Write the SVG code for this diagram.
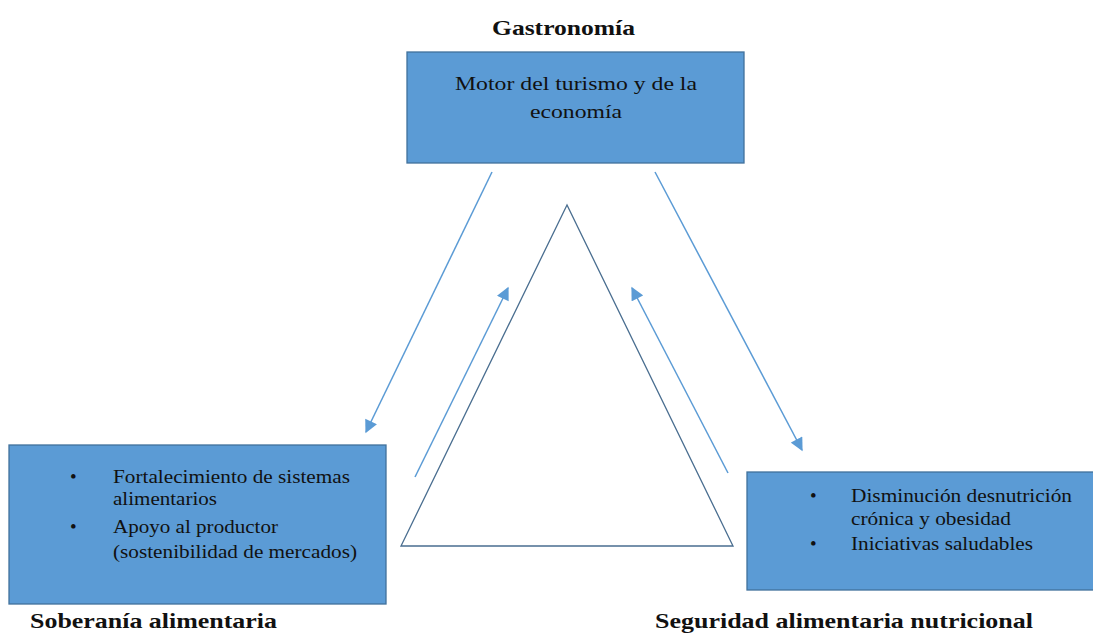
<svg xmlns="http://www.w3.org/2000/svg" width="1093" height="633" viewBox="0 0 1093 633" font-family="Liberation Serif, Times New Roman, serif">
<style>
.box{fill:#5B9BD5;stroke:#41719C;stroke-width:1.3}
.t{font-size:19px;fill:#111}
.h{font-size:22px;font-weight:bold;fill:#111}
.c{stroke:#5B9BD5;stroke-width:1.5;fill:none}
</style>
<defs>
<marker id="ah" viewBox="0 0 10 10" refX="9" refY="5" markerWidth="14" markerHeight="13" markerUnits="userSpaceOnUse" orient="auto">
<path d="M0,0 L10,5 L0,10 z" fill="#5B9BD5"/>
</marker>
</defs>
<rect width="1093" height="633" fill="#fff"/>
<g id="triangle">
<polygon points="567,205 401,546 733,546" fill="none" stroke="#4A6E90" stroke-width="1.3"/>
</g>
<g id="connectors">
<line x1="492" y1="172" x2="366" y2="432" class="c" marker-end="url(#ah)"/>
<line x1="415" y1="477" x2="508" y2="288" class="c" marker-end="url(#ah)"/>
<line x1="655" y1="172" x2="802" y2="450" class="c" marker-end="url(#ah)"/>
<line x1="728" y1="473" x2="632" y2="288" class="c" marker-end="url(#ah)"/>
</g>
<g id="gastronomia" font-family="Liberation Serif, serif">
<text class="h" x="492" y="35" textLength="143" lengthAdjust="spacingAndGlyphs">Gastronomía</text>
<rect class="box" x="407" y="52" width="337" height="111"/>
<text class="t" x="455" y="90" textLength="242" lengthAdjust="spacingAndGlyphs">Motor del turismo y de la</text>
<text class="t" x="530" y="118" textLength="92" lengthAdjust="spacingAndGlyphs">economía</text>
</g>
<g id="soberania" font-family="Liberation Serif, serif">
<rect class="box" x="9" y="445" width="377" height="159"/>
<text class="t" x="70" y="483">•</text>
<text class="t" x="113" y="483" textLength="237" lengthAdjust="spacingAndGlyphs">Fortalecimiento de sistemas</text>
<text class="t" x="113" y="505" textLength="104" lengthAdjust="spacingAndGlyphs">alimentarios</text>
<text class="t" x="70" y="533">•</text>
<text class="t" x="113" y="533" textLength="165" lengthAdjust="spacingAndGlyphs">Apoyo al productor</text>
<text class="t" x="113" y="558" textLength="244" lengthAdjust="spacingAndGlyphs">(sostenibilidad de mercados)</text>
<text class="h" x="30" y="628" textLength="247" lengthAdjust="spacingAndGlyphs">Soberanía alimentaria</text>
</g>
<g id="seguridad" font-family="Liberation Serif, serif">
<rect class="box" x="747" y="472" width="352" height="118"/>
<text class="t" x="810" y="502">•</text>
<text class="t" x="851" y="502" textLength="221" lengthAdjust="spacingAndGlyphs">Disminución desnutrición</text>
<text class="t" x="851" y="525" textLength="160" lengthAdjust="spacingAndGlyphs">crónica y obesidad</text>
<text class="t" x="810" y="550">•</text>
<text class="t" x="851" y="550" textLength="182" lengthAdjust="spacingAndGlyphs">Iniciativas saludables</text>
<text class="h" x="655" y="628" textLength="378" lengthAdjust="spacingAndGlyphs">Seguridad alimentaria nutricional</text>
</g>
</svg>
